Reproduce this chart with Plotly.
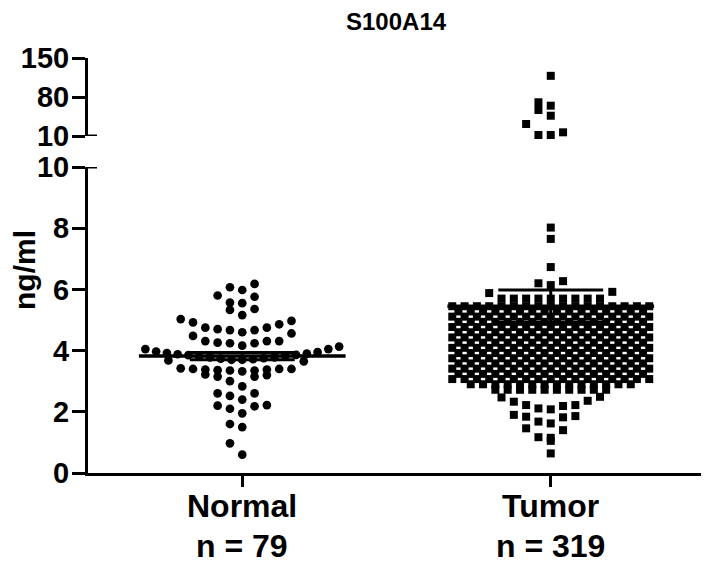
import numpy as np
import plotly.graph_objects as go

# ---------------- data ----------------
categories = ["Normal", "Tumor"]
group_sizes = ["n = 79", "n = 319"]

normal_values = [
    6.18, 6.07, 5.98, 5.80, 5.76, 5.57, 5.55, 5.36, 5.33, 5.16, 5.03, 4.97,
    4.92, 4.86, 4.75, 4.75, 4.70, 4.67, 4.67, 4.60, 4.56, 4.48, 4.31, 4.31,
    4.31, 4.26, 4.24, 4.24, 4.16, 4.13, 4.05, 4.05,
    3.65, 3.70, 3.72, 3.68, 3.75, 3.80, 3.78, 3.85, 3.83, 3.90, 3.88, 3.95,
    3.78, 3.70, 3.86, 3.92, 3.74, 3.97,
    3.40, 3.38, 3.35, 3.42, 3.40, 3.36, 3.32, 3.35, 3.38, 3.40, 3.22, 3.20,
    3.15, 3.15, 3.00, 2.83, 2.60, 2.60, 2.52, 2.40, 2.22, 2.20, 2.18, 2.10,
    1.95, 1.60, 1.50, 0.97, 0.60,
]

# Tumor values above the axis break (10-150 segment)
tumor_upper_values = [118.0, 70.5, 64.4, 56.7, 46.4, 31.5, 16.6, 11.8, 11.8]

# Tumor dense block: rows (value level, number of squares in the row)
tumor_row_levels = [2.72, 2.90, 3.07, 3.24, 3.41, 3.58, 3.75, 3.92, 4.09,
                    4.26, 4.43, 4.60, 4.77, 4.94, 5.11, 5.28, 5.45]
tumor_row_counts = [10, 14, 17, 16, 17, 16, 17, 16, 17,
                    16, 17, 16, 17, 16, 17, 16, 17]

# Tumor sparse squares in the lower segment (tail below and above the block)
tumor_sparse_values = [0.64, 1.05, 1.15, 1.17, 1.40, 1.46, 1.62, 1.68, 1.82,
                       1.84, 1.86, 1.90, 2.08, 2.11, 2.19, 2.22, 2.22, 2.33,
                       2.36, 2.47, 2.49,
                       5.70, 5.70, 5.70, 5.70, 5.70, 5.70, 5.70, 5.70, 5.70,
                       5.88, 5.92, 6.14, 6.20, 6.27, 6.73, 7.65, 8.02]

# Mean and SEM bars as drawn
group_means = [3.82, 5.45]
group_sems = [0.12, 0.53]

lower_ticks = [0, 2, 4, 6, 8, 10]
upper_ticks = [10, 80, 150]

# ---------------- layout helpers (Prism-like column scatter) ----------------
SLOT = 0.0399        # horizontal slot spacing (x units)
MAX_HALF = 0.314     # max half-width of a column (x units)
CAP = 2 * int(round(MAX_HALF / SLOT)) + 1


def center_out(n):
    out, step = [], 0
    while len(out) < n:
        out.append(-((step + 1) // 2) if step % 2 else step // 2)
        step += 1
    return np.array(out, float)


def binned_swarm(values, bin_h, origin, centered=False):
    vals = np.asarray(values, float)
    bins = np.floor((vals - origin) / bin_h + 1e-9).astype(int)
    offs = np.zeros(len(vals))
    for b in np.unique(bins):
        idx = np.where(bins == b)[0]
        idx = idx[np.argsort(vals[idx], kind="stable")]
        n = len(idx)
        sp = SLOT if n <= CAP else 2 * MAX_HALF / (n - 1)
        k = (np.arange(n) - (n - 1) / 2) if centered else center_out(n)
        offs[idx] = k * sp
    return offs


tumor_block_values = []
for lvl, cnt in zip(tumor_row_levels, tumor_row_counts):
    tumor_block_values += [lvl] * cnt

normal_x = 0 + binned_swarm(normal_values, 0.45, 0.10)
tumor_sparse_x = 1 + binned_swarm(tumor_sparse_values, 0.45, 0.25)
tumor_block_x = 1 + binned_swarm(tumor_block_values, 0.17, 2.72 - 0.085, centered=True)
tumor_upper_x = 1 + binned_swarm(tumor_upper_values, 25.0, 10.0)

# ---------------- figure ----------------
FONT = "Liberation Sans, Arial, sans-serif"
BODY = 8                      # page margin of the html body
W, H = 709 - BODY, 567 - BODY
PX0, PX1 = 88 - BODY, 705 - BODY      # plot area in figure pixels
PY0, PY1 = 58 - BODY, 473 - BODY
L, R, T, B = PX0, W - PX1, PY0, H - PY1
plot_w, plot_h = PX1 - PX0, PY1 - PY0


def py(page_y):
    """page pixel row -> paper fraction"""
    return (473 - page_y) / plot_h


def px(page_x):
    """page pixel column -> paper fraction"""
    return (page_x - 88) / plot_w


lower_top = py(167)
upper_bot = py(136)

fig = go.Figure()

sq = dict(symbol="square", size=8, color="black", line=dict(width=0))
fig.add_trace(go.Scatter(
    x=normal_x, y=normal_values, mode="markers", xaxis="x", yaxis="y",
    marker=dict(symbol="circle", size=8.7, color="black", line=dict(width=0)),
    cliponaxis=False, showlegend=False, hoverinfo="y"))
fig.add_trace(go.Scatter(
    x=tumor_block_x, y=tumor_block_values, mode="markers", xaxis="x", yaxis="y",
    marker=sq, cliponaxis=False, showlegend=False, hoverinfo="y"))
fig.add_trace(go.Scatter(
    x=tumor_sparse_x, y=tumor_sparse_values, mode="markers", xaxis="x", yaxis="y",
    marker=sq, cliponaxis=False, showlegend=False, hoverinfo="y"))
fig.add_trace(go.Scatter(
    x=tumor_upper_x, y=tumor_upper_values, mode="markers", xaxis="x", yaxis="y2",
    marker=sq, cliponaxis=False, showlegend=False, hoverinfo="y"))

# mean lines and SEM bars
MEAN_HALF = 0.335
CAP_HALF = 0.17
for ci, (m, s) in enumerate(zip(group_means, group_sems)):
    fig.add_trace(go.Scatter(
        x=[ci - MEAN_HALF, ci + MEAN_HALF], y=[m, m], mode="lines",
        line=dict(color="black", width=3.5), showlegend=False, hoverinfo="skip",
        xaxis="x", yaxis="y", cliponaxis=False))
    fig.add_trace(go.Scatter(
        x=[ci, ci, None, ci - CAP_HALF, ci + CAP_HALF, None, ci - CAP_HALF, ci + CAP_HALF],
        y=[m - s, m + s, None, m + s, m + s, None, m - s, m - s], mode="lines",
        line=dict(color="black", width=3), showlegend=False, hoverinfo="skip",
        xaxis="x", yaxis="y", cliponaxis=False))

axis_common = dict(
    showline=True, linecolor="black", linewidth=3, showgrid=False, zeroline=False,
    ticks="outside", tickcolor="black", tickwidth=3,
    automargin=False, fixedrange=True)
yfont = dict(family=FONT, size=29, color="black", weight="bold")

fig.update_layout(
    width=W, height=H, margin=dict(l=L, r=R, t=T, b=B, pad=0),
    paper_bgcolor="white", plot_bgcolor="white", showlegend=False,
    xaxis=dict(domain=[0, 1], range=[-0.5, 1.5], anchor="y",
               tickvals=[0, 1], ticktext=["", ""], ticklen=11, **axis_common),
    yaxis=dict(domain=[0, lower_top], range=[0, 10], anchor="x",
               tickvals=lower_ticks, ticklen=13, tickfont=yfont,
               ticklabelstandoff=-3, **axis_common),
    yaxis2=dict(domain=[upper_bot, 1], range=[10, 150], anchor="x",
                tickvals=upper_ticks, ticklen=13, tickfont=yfont,
                ticklabelstandoff=-3, **axis_common),
)

# axis-break marks
brk = 9 / plot_w
for yr in ["y", "y2"]:
    fig.add_shape(type="line", xref="paper", yref=yr, x0=0, x1=brk, y0=10, y1=10,
                  line=dict(color="black", width=3))

# title, y label, category labels, group sizes
fig.add_annotation(text="S100A14", xref="paper", yref="paper", x=0.5,
                   y=py(22), showarrow=False, yanchor="middle", borderpad=0,
                   font=dict(family=FONT, size=24, color="black", weight="bold"))
fig.add_annotation(text="ng/ml", xref="paper", yref="paper", x=px(24),
                   y=py(270), showarrow=False, textangle=-90, xanchor="center",
                   yanchor="middle", borderpad=0,
                   font=dict(family=FONT, size=30, color="black", weight="bold"))
for ci, (lab, nlab) in enumerate(zip(categories, group_sizes)):
    fig.add_annotation(text=lab, xref="x", yref="paper", x=ci, y=py(506),
                       showarrow=False, yanchor="middle",
                       font=dict(family=FONT, size=32, color="black", weight="bold"))
    fig.add_annotation(text=nlab, xref="x", yref="paper", x=ci, y=py(546),
                       showarrow=False, yanchor="middle",
                       font=dict(family=FONT, size=32, color="black", weight="bold"))

fig.write_html("out.html")
